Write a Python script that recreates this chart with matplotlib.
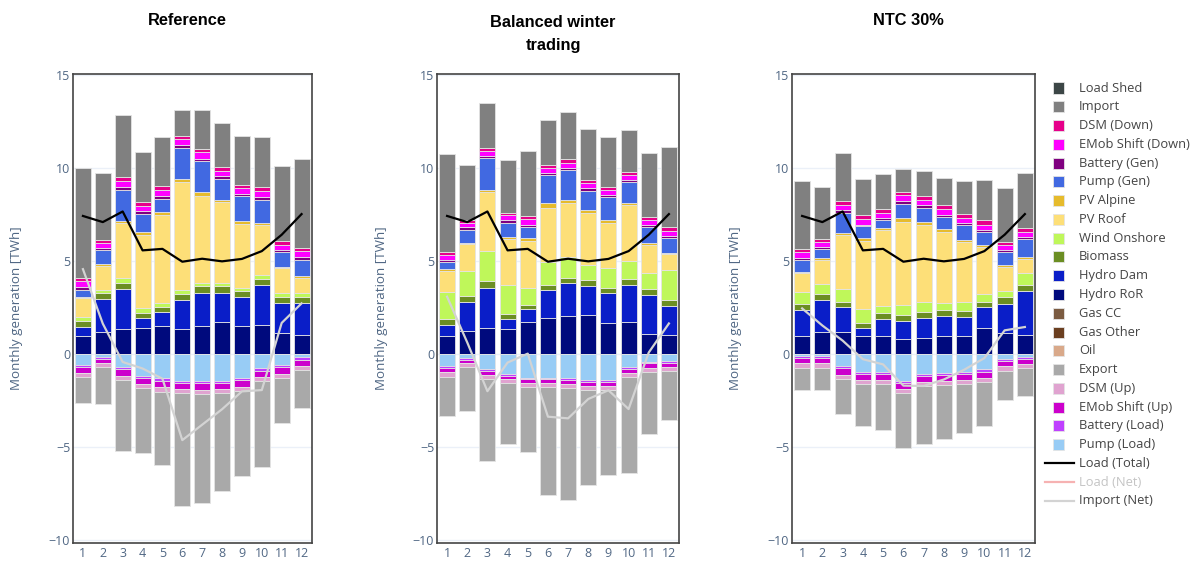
import numpy as np
import matplotlib.pyplot as plt
from matplotlib.patches import Rectangle
from matplotlib.lines import Line2D

plt.rcParams['font.family'] = ['Open Sans', 'DejaVu Sans']

months = np.arange(1, 13)
scenarios = ['Reference', 'Balanced winter\ntrading', 'NTC 30%']

# generation side [TWh], one row per scenario (Reference, Balanced winter trading, NTC 30%)
hydro_ror = [[0.97, 1.20, 1.33, 1.38, 1.53, 1.33, 1.53, 1.74, 1.51, 1.56, 1.15, 1.02],
             [0.98, 1.22, 1.40, 1.35, 1.73, 1.95, 2.04, 2.08, 1.68, 1.71, 1.09, 1.00],
             [0.97, 1.19, 1.20, 0.94, 0.97, 0.79, 0.88, 0.97, 0.97, 1.37, 1.12, 1.01]]
hydro_dam = [[0.50, 1.74, 2.15, 0.54, 0.75, 1.58, 1.77, 1.56, 1.54, 2.16, 1.61, 1.74],
             [0.57, 1.60, 2.15, 0.51, 0.67, 1.51, 1.77, 1.60, 1.58, 2.01, 2.10, 1.59],
             [1.39, 1.71, 1.30, 0.43, 0.90, 0.99, 1.08, 1.08, 1.03, 1.13, 1.56, 2.35]]
biomass = [[0.31, 0.33, 0.32, 0.27, 0.27, 0.30, 0.33, 0.33, 0.34, 0.32, 0.33, 0.29],
           [0.31, 0.31, 0.35, 0.27, 0.22, 0.26, 0.27, 0.31, 0.29, 0.32, 0.31, 0.32],
           [0.32, 0.32, 0.32, 0.32, 0.31, 0.32, 0.32, 0.32, 0.32, 0.32, 0.36, 0.35]]
wind = [[0.22, 0.18, 0.26, 0.27, 0.21, 0.24, 0.21, 0.21, 0.18, 0.21, 0.18, 0.22],
        [1.46, 1.31, 1.64, 1.60, 0.93, 1.20, 1.11, 0.82, 1.08, 0.97, 0.87, 1.59],
        [0.63, 0.54, 0.67, 0.72, 0.41, 0.53, 0.53, 0.36, 0.45, 0.40, 0.36, 0.64]]
pv_roof = [[1.03, 1.29, 2.98, 3.95, 4.69, 5.78, 4.67, 4.31, 3.43, 2.66, 1.34, 0.81],
           [1.14, 1.46, 3.15, 2.44, 2.55, 2.95, 2.92, 2.79, 2.42, 2.99, 1.50, 0.86],
           [1.02, 1.29, 2.88, 3.69, 4.05, 4.49, 4.13, 3.85, 3.27, 2.52, 1.26, 0.76]]
pv_alpine = [[0.06, 0.11, 0.12, 0.14, 0.16, 0.20, 0.18, 0.14, 0.13, 0.13, 0.09, 0.09],
             [0.09, 0.09, 0.13, 0.10, 0.13, 0.22, 0.18, 0.12, 0.13, 0.11, 0.09, 0.09],
             [0.09, 0.09, 0.12, 0.12, 0.12, 0.18, 0.15, 0.15, 0.09, 0.12, 0.12, 0.09]]
pump_gen = [[0.36, 0.72, 1.67, 0.99, 0.72, 1.65, 1.67, 1.12, 1.34, 1.25, 0.76, 0.89],
            [0.37, 0.69, 1.69, 0.78, 0.60, 1.51, 1.58, 1.06, 1.24, 1.13, 0.85, 0.78],
            [0.63, 0.51, 1.10, 0.65, 0.42, 0.78, 0.77, 0.63, 0.78, 0.72, 0.72, 0.99]]
battery_gen = [[0.15, 0.12, 0.13, 0.13, 0.14, 0.14, 0.14, 0.14, 0.13, 0.15, 0.14, 0.13],
               [0.13, 0.13, 0.13, 0.13, 0.13, 0.13, 0.13, 0.13, 0.12, 0.12, 0.11, 0.13],
               [0.11, 0.12, 0.13, 0.09, 0.12, 0.12, 0.13, 0.12, 0.12, 0.11, 0.11, 0.12]]
emob_down = [[0.30, 0.27, 0.32, 0.30, 0.33, 0.34, 0.34, 0.31, 0.32, 0.30, 0.27, 0.32],
             [0.27, 0.24, 0.27, 0.27, 0.27, 0.27, 0.27, 0.27, 0.28, 0.28, 0.26, 0.27],
             [0.31, 0.27, 0.27, 0.31, 0.29, 0.33, 0.27, 0.29, 0.27, 0.27, 0.27, 0.27]]
dsm_down = [[0.18, 0.18, 0.22, 0.20, 0.21, 0.18, 0.18, 0.19, 0.18, 0.22, 0.18, 0.18],
            [0.18, 0.13, 0.15, 0.15, 0.18, 0.15, 0.19, 0.18, 0.18, 0.14, 0.18, 0.18],
            [0.18, 0.15, 0.21, 0.18, 0.22, 0.18, 0.23, 0.22, 0.24, 0.22, 0.16, 0.18]]
imports = [[5.92, 3.59, 3.37, 2.69, 2.66, 1.40, 2.08, 2.34, 2.61, 2.69, 4.08, 4.79],
           [5.25, 3.00, 2.42, 2.82, 3.52, 2.45, 2.54, 2.73, 2.69, 2.24, 3.42, 4.30],
           [3.63, 2.78, 2.61, 1.94, 1.88, 1.25, 1.35, 1.49, 1.76, 2.15, 2.88, 2.99]]
zeros = [[0.0] * 12 for _ in range(3)]
load_shed = zeros
gas_cc = zeros
gas_other = zeros
oil = zeros

# consumption side [TWh], magnitudes (drawn below zero)
pump_load = [[0.59, 0.18, 0.68, 1.17, 1.31, 1.44, 1.44, 1.44, 1.28, 0.77, 0.59, 0.18],
             [0.63, 0.23, 0.83, 1.08, 1.28, 1.28, 1.31, 1.40, 1.40, 0.72, 0.41, 0.38],
             [0.13, 0.13, 0.64, 0.96, 0.96, 1.45, 1.05, 1.00, 0.96, 0.82, 0.27, 0.15]]
battery_load = [[0.13, 0.11, 0.13, 0.13, 0.13, 0.14, 0.14, 0.14, 0.12, 0.13, 0.13, 0.14],
                [0.11, 0.09, 0.11, 0.11, 0.09, 0.09, 0.09, 0.09, 0.09, 0.09, 0.09, 0.09],
                [0.11, 0.11, 0.12, 0.13, 0.13, 0.13, 0.13, 0.13, 0.13, 0.13, 0.13, 0.12]]
emob_up = [[0.32, 0.21, 0.36, 0.32, 0.36, 0.31, 0.36, 0.31, 0.36, 0.32, 0.36, 0.31],
           [0.25, 0.18, 0.19, 0.18, 0.21, 0.21, 0.22, 0.22, 0.22, 0.23, 0.24, 0.21],
           [0.27, 0.27, 0.37, 0.31, 0.31, 0.29, 0.33, 0.32, 0.31, 0.32, 0.27, 0.28]]
dsm_up = [[0.22, 0.22, 0.23, 0.23, 0.23, 0.23, 0.22, 0.23, 0.22, 0.24, 0.23, 0.23],
          [0.23, 0.22, 0.24, 0.21, 0.22, 0.22, 0.23, 0.23, 0.23, 0.22, 0.21, 0.24],
          [0.25, 0.22, 0.23, 0.24, 0.24, 0.22, 0.22, 0.24, 0.24, 0.24, 0.24, 0.21]]
exports = [[1.35, 1.98, 3.82, 3.47, 3.96, 6.03, 5.86, 5.27, 4.60, 4.62, 2.38, 2.07],
           [2.13, 2.36, 4.40, 3.24, 3.47, 5.77, 5.99, 5.09, 4.59, 5.14, 3.33, 2.61],
           [1.15, 1.22, 1.86, 2.23, 2.45, 2.96, 3.09, 2.86, 2.60, 2.34, 1.58, 1.51]]

load_total = [7.42, 7.09, 7.66, 5.57, 5.65, 4.96, 5.12, 4.98, 5.11, 5.53, 6.41, 7.52]
import_net = [[4.56, 1.63, -0.43, -0.78, -1.33, -4.63, -3.80, -2.97, -2.01, -1.94, 1.67, 2.72],
              [3.08, 0.62, -2.00, -0.46, 0.02, -3.37, -3.46, -2.42, -1.95, -2.96, 0.08, 1.64],
              [2.45, 1.53, 0.72, -0.28, -0.56, -1.70, -1.72, -1.37, -0.85, -0.22, 1.27, 1.45]]

pos_series = [('Oil', oil, '#d9a98a'), ('Gas Other', gas_other, '#6b3f20'),
              ('Gas CC', gas_cc, '#7b5b41'), ('Hydro RoR', hydro_ror, '#000a7d'),
              ('Hydro Dam', hydro_dam, '#0a1ec8'), ('Biomass', biomass, '#6b8e23'),
              ('Wind Onshore', wind, '#bff75a'), ('PV Roof', pv_roof, '#fddf78'),
              ('PV Alpine', pv_alpine, '#e6bb2c'), ('Pump (Gen)', pump_gen, '#4169e1'),
              ('Battery (Gen)', battery_gen, '#800080'), ('EMob Shift (Down)', emob_down, '#ff00ff'),
              ('DSM (Down)', dsm_down, '#e6008a'), ('Import', imports, '#808080'),
              ('Load Shed', load_shed, '#3c4646')]
neg_series = [('Pump (Load)', pump_load, '#98ccf5'), ('Battery (Load)', battery_load, '#bf40ff'),
              ('EMob Shift (Up)', emob_up, '#cc00cc'), ('DSM (Up)', dsm_up, '#e0a3d0'),
              ('Export', exports, '#a9a9a9')]

W, H = 1200, 561
fig = plt.figure(figsize=(W / 100, H / 100), dpi=100)
panels = [(73, 311.5), (437, 679), (792, 1035)]
top_px, bot_px = 74, 543
tick_col = '#506784'
edge = '#e4e4e4'

for k, (x0, x1) in enumerate(panels):
    ax = fig.add_axes([x0 / W, 1 - bot_px / H, (x1 - x0) / W, (bot_px - top_px) / H])
    bottom = np.zeros(12)
    for name, data, col in pos_series:
        v = np.array(data[k])
        if v.sum() == 0:
            continue
        ax.bar(months, v, 0.8, bottom=bottom, color=col, edgecolor=edge, linewidth=0.6, zorder=2)
        bottom += v
    bottom = np.zeros(12)
    for name, data, col in neg_series:
        v = -np.array(data[k])
        ax.bar(months, v, 0.8, bottom=bottom, color=col, edgecolor=edge, linewidth=0.6, zorder=2)
        bottom += v
    ax.plot(months, import_net[k], color='#d3d3d3', lw=1.6, zorder=3)
    ax.plot(months, load_total, color='black', lw=1.6, zorder=4)

    ax.set_xlim(0.5, 12.5)
    ax.set_ylim(-10.16, 15.05)
    ax.set_xticks(months)
    ax.set_yticks([-10, -5, 0, 5, 10, 15])
    ax.yaxis.grid(True, color='#ebf0f8', lw=1)
    ax.set_axisbelow(True)
    for s in ax.spines.values():
        s.set_color('#444444')
        s.set_linewidth(1.2)
    ax.tick_params(axis='x', length=0, labelsize=9, labelcolor=tick_col, pad=3)
    ax.tick_params(axis='y', length=0, labelsize=9, labelcolor=tick_col, pad=2)

    fig.text((x0 - 56) / W, 1 - 308 / H, 'Monthly generation [TWh]', rotation=90,
             ha='center', va='center', fontsize=9.6, color=tick_col)
    cx = (x0 + x1) / 2 - 5
    ty = 20.7 if '\n' not in scenarios[k] else 33.8
    fig.text(cx / W, 1 - ty / H, scenarios[k], ha='center', va='center', fontsize=11.8,
             fontweight='bold', family='Liberation Sans', linespacing=1.7)

# legend, drawn by hand in pixel positions
legend_items = [('Load Shed', '#3c4646', 'bar'), ('Import', '#808080', 'bar'),
                ('DSM (Down)', '#e6008a', 'bar'), ('EMob Shift (Down)', '#ff00ff', 'bar'),
                ('Battery (Gen)', '#800080', 'bar'), ('Pump (Gen)', '#4169e1', 'bar'),
                ('PV Alpine', '#e6bb2c', 'bar'), ('PV Roof', '#fddf78', 'bar'),
                ('Wind Onshore', '#bff75a', 'bar'), ('Biomass', '#6b8e23', 'bar'),
                ('Hydro Dam', '#0a1ec8', 'bar'), ('Hydro RoR', '#000a7d', 'bar'),
                ('Gas CC', '#7b5b41', 'bar'), ('Gas Other', '#6b3f20', 'bar'),
                ('Oil', '#d9a98a', 'bar'), ('Export', '#a9a9a9', 'bar'),
                ('DSM (Up)', '#e0a3d0', 'bar'), ('EMob Shift (Up)', '#cc00cc', 'bar'),
                ('Battery (Load)', '#bf40ff', 'bar'), ('Pump (Load)', '#98ccf5', 'bar'),
                ('Load (Total)', 'black', 'line'), ('Load (Net)', '#f08080', 'off'),
                ('Import (Net)', '#d3d3d3', 'line')]
for i, (lab, col, kind) in enumerate(legend_items):
    yc = 88 + i * 18.77
    if kind == 'bar':
        fig.add_artist(Rectangle((1053 / W, 1 - (yc + 5.5) / H), 11 / W, 11 / H,
                                 transform=fig.transFigure, facecolor=col, edgecolor=edge, lw=0.6))
        tcol = '#444444'
    else:
        alpha = 0.6 if kind == 'off' else 1.0
        fig.add_artist(Line2D([1045 / W, 1074 / W], [1 - yc / H] * 2, transform=fig.transFigure,
                              color=col, lw=1.6, alpha=alpha))
        tcol = '#c4c4c4' if kind == 'off' else '#444444'
    fig.text(1079 / W, 1 - yc / H, lab, ha='left', va='center', fontsize=9.3, color=tcol)

fig.savefig('out.png', dpi=100)
